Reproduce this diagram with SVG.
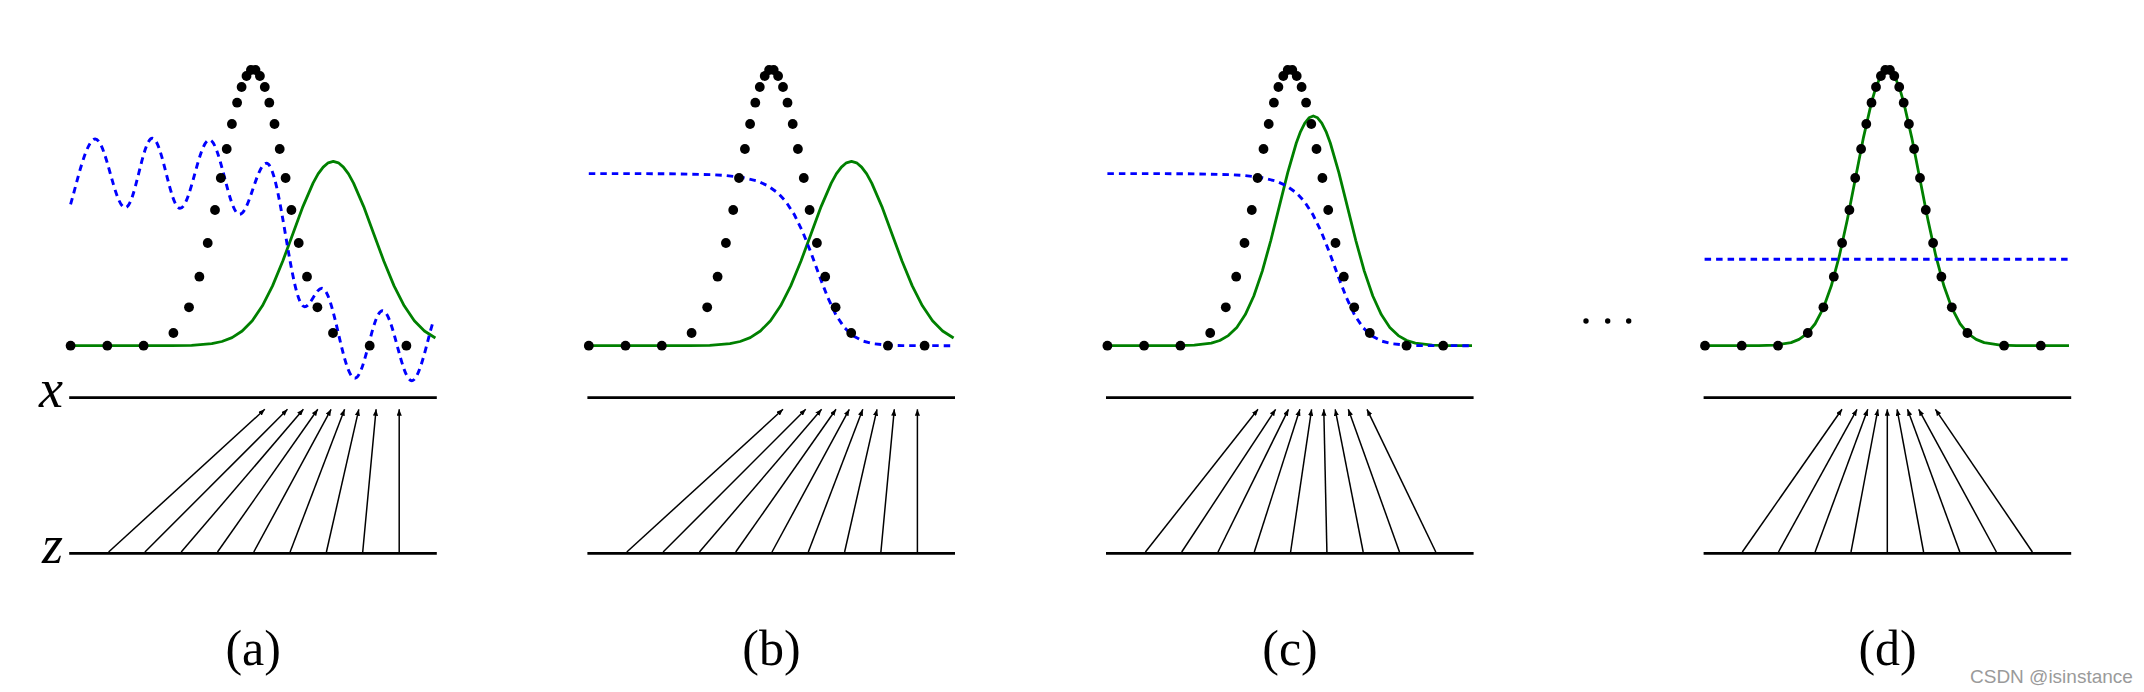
<svg xmlns="http://www.w3.org/2000/svg" xmlns:xlink="http://www.w3.org/1999/xlink" width="2144" height="692" viewBox="0 0 2144 692">
<style>
.axis{stroke:#000;stroke-width:2.8;fill:none}
.pg{stroke:#008000;stroke-width:2.8;fill:none;stroke-linejoin:round}
.dd{stroke:#0000ff;stroke-width:2.9;fill:none;stroke-dasharray:6.5 5}
.arr{stroke:#000;stroke-width:1.5;fill:none;marker-end:url(#ah)}
.dot{fill:#000}
.lab{font-family:"Liberation Serif","Times New Roman",serif;font-size:50px;text-anchor:middle;fill:#000}
.var{font-family:"Liberation Serif","Times New Roman",serif;font-style:italic;font-size:54px;text-anchor:end;fill:#000}
.wm{font-family:"Liberation Sans",Arial,sans-serif;font-size:19px;fill:#9a9a9a}
</style>
<defs>
<marker id="ah" viewBox="0 0 10 8" refX="10" refY="4" markerWidth="6.5" markerHeight="5.2" markerUnits="userSpaceOnUse" orient="auto">
<path d="M0,0L10,4L0,8z" fill="#000"/>
</marker>
<g id="axes">
<path class="axis" d="M69.2,397.7H436.8M69.2,553.3H436.8"/>
</g>
<g id="dots" class="dot">
<circle cx="70.6" cy="345.7" r="4.9"/><circle cx="107.3" cy="345.7" r="4.9"/><circle cx="143.6" cy="345.7" r="4.9"/>
<circle cx="173.4" cy="333" r="4.9"/><circle cx="189" cy="307.3" r="4.9"/><circle cx="199.4" cy="276.7" r="4.9"/>
<circle cx="207.7" cy="243" r="4.9"/><circle cx="215" cy="210" r="4.9"/><circle cx="220.8" cy="178" r="4.9"/>
<circle cx="226.7" cy="149" r="4.9"/><circle cx="231.9" cy="124" r="4.9"/><circle cx="237.1" cy="102.7" r="4.9"/>
<circle cx="241.6" cy="87" r="4.9"/><circle cx="246.5" cy="76" r="4.9"/><circle cx="250.9" cy="70" r="4.9"/>
<circle cx="255.5" cy="70" r="4.9"/><circle cx="259.9" cy="76" r="4.9"/><circle cx="264.8" cy="87" r="4.9"/>
<circle cx="269.3" cy="102.7" r="4.9"/><circle cx="274.5" cy="124" r="4.9"/><circle cx="279.7" cy="149" r="4.9"/>
<circle cx="285.6" cy="178" r="4.9"/><circle cx="291.4" cy="210" r="4.9"/><circle cx="298.7" cy="243" r="4.9"/>
<circle cx="307" cy="276.7" r="4.9"/><circle cx="317.4" cy="307.3" r="4.9"/><circle cx="333" cy="333" r="4.9"/>
<circle cx="369.7" cy="345.7" r="4.9"/><circle cx="406.4" cy="345.7" r="4.9"/>
</g>
<polyline id="pgAB" class="pg" points="70.6,345.7 171.3,345.65 191.55,345.3 211.8,343.65 221.9,341.5 232.05,337.6 242.2,331.0 252.3,320.8 262.4,305.8 272.55,285.9 282.7,261.3 292.8,233.9 302.9,206.6 313.05,183.1 318.1,173.9 323.2,167.1 328.2,162.8 333.3,161.4 338.4,162.8 343.4,167.1 348.5,173.9 353.55,183.1 363.7,206.6 373.8,233.9 383.9,261.3 394.05,285.9 404.2,305.8 414.3,320.8 424.4,331.0 435.4,338.0"/>
<polyline id="dBC" class="dd" points="70.6,173.6 150,173.7 192.1,174.6 207.7,175.5 223.3,177.3 238.9,181.0 249.2,185.5 259.6,192.9 267.9,201.9 276.2,214.8 284.5,231.9 292.9,253.0 301.2,275.9 309.5,297.4 317.8,315.0 326.1,327.5 334.4,335.5 344.8,341.1 355.2,343.7 368.7,345.1 384.2,345.6 435.4,345.7"/>
<g id="arrAB">
<line class="arr" x1="108.6" y1="552" x2="264.8" y2="409.3"/>
<line class="arr" x1="144.9" y1="552" x2="287.5" y2="409.3"/>
<line class="arr" x1="181.2" y1="552" x2="303.4" y2="409.3"/>
<line class="arr" x1="217.5" y1="552" x2="317.8" y2="409.3"/>
<line class="arr" x1="253.8" y1="552" x2="331.1" y2="409.3"/>
<line class="arr" x1="290.1" y1="552" x2="344.6" y2="409.3"/>
<line class="arr" x1="326.4" y1="552" x2="358.8" y2="409.3"/>
<line class="arr" x1="362.7" y1="552" x2="376.1" y2="409.3"/>
<line class="arr" x1="399.2" y1="552" x2="399.2" y2="409.3"/>
</g>
</defs>

<rect width="2144" height="692" fill="#fff"/>

<g id="panel-a">
<use xlink:href="#axes" href="#axes"/>
<text class="var" x="63" y="407">x</text>
<text class="var" x="63" y="563">z</text>
<use xlink:href="#pgAB" href="#pgAB"/>
<path class="dd" d="M70.6,204.3C76.6,184.3 86.2,139 95.2,139C106,139 114.5,207.7 125.3,207.7C135,207.7 142.6,138.3 152.3,138.3C162.3,138.3 170,208.3 180,208.3C190.6,208.3 198.8,140 209.4,140C220.2,140 228.7,214.3 239.5,214.3C249.2,214.3 256.8,163.3 266.5,163.3C280.2,163.3 290.9,306.7 304.6,306.7C310.8,306.7 315.7,288.3 321.9,288.3C333.7,288.3 343,378.3 354.8,378.3C364.8,378.3 372.5,310.7 382.5,310.7C393.1,310.7 401.3,380.7 411.9,380.7C419.9,380.7 428.4,335 433.4,321"/>
<use xlink:href="#dots" href="#dots"/>
<text class="lab" x="253.2" y="665">(a)</text>
</g>

<g id="panel-b" transform="translate(518.2,0)">
<use xlink:href="#axes" href="#axes"/>
<use xlink:href="#pgAB" href="#pgAB"/>
<use xlink:href="#dBC" href="#dBC"/>
<use xlink:href="#dots" href="#dots"/>
<text class="lab" x="253.2" y="665">(b)</text>
</g>

<g id="panel-c" transform="translate(1036.8,0)">
<use xlink:href="#axes" href="#axes"/>
<polyline class="pg" points="70.3,345.7 140.5,345.6 157.5,345.2 174.5,343.15 183,340.46 191.5,335.6 200,327.4 208.5,314.6 217,296.0 225.5,271.1 234,240.5 242.5,206.4 251,172.3 259.5,143.0 263.75,131.6 268,123.1 272.25,117.8 276.5,116 280.75,117.8 285,123.1 289.25,131.6 293.5,143.0 302,172.3 310.5,206.4 319,240.5 327.5,271.1 336,296.0 344.5,314.6 353,327.4 361.5,335.6 370,340.46 378.5,343.15 395.5,345.2 412.5,345.6 435.2,345.7"/>
<use xlink:href="#dBC" href="#dBC"/>
<use xlink:href="#dots" href="#dots"/>
<text class="lab" x="253.2" y="665">(c)</text>
</g>

<g id="ellipsis" class="dot">
<circle cx="1586" cy="321" r="2.7"/>
<circle cx="1607.7" cy="321" r="2.7"/>
<circle cx="1628.7" cy="321" r="2.7"/>
</g>

<g id="panel-d" transform="translate(1634.4,0)">
<use xlink:href="#axes" href="#axes"/>
<polyline class="pg" points="70.2,345.7 124.4,345.6 140.5,345.1 156.6,342.64 164.65,339.41 172.7,333.6 180.75,323.75 188.8,308.4 196.85,286.1 204.9,256.2 212.95,219.5 221,178.5 229.05,137.6 237.1,102.4 241.1,88.7 245.15,78.5 249.2,72.2 253.2,70 257.2,72.2 261.25,78.5 265.3,88.7 269.3,102.4 277.35,137.6 285.4,178.5 293.45,219.5 301.5,256.2 309.55,286.1 317.6,308.4 325.65,323.75 333.7,333.6 341.75,339.41 349.8,342.64 365.9,345.1 382,345.6 434.6,345.7"/>
<path class="dd" d="M70.2,259.3H434.6"/>
<use xlink:href="#dots" href="#dots"/>
<text class="lab" x="253.2" y="665">(d)</text>
</g>

<g id="connectors">
<g id="arrows-a"><use xlink:href="#arrAB" href="#arrAB"/></g>
<g id="arrows-b" transform="translate(518.2,0)"><use xlink:href="#arrAB" href="#arrAB"/></g>
<g id="arrows-c" transform="translate(1036.8,0)">
<line class="arr" x1="108.6" y1="552" x2="221.2" y2="409.3"/>
<line class="arr" x1="144.9" y1="552" x2="238.8" y2="409.3"/>
<line class="arr" x1="181.2" y1="552" x2="251.7" y2="409.3"/>
<line class="arr" x1="217.5" y1="552" x2="263.1" y2="409.3"/>
<line class="arr" x1="253.8" y1="552" x2="274.8" y2="409.3"/>
<line class="arr" x1="290.1" y1="552" x2="287" y2="409.3"/>
<line class="arr" x1="326.4" y1="552" x2="298.4" y2="409.3"/>
<line class="arr" x1="362.7" y1="552" x2="311.5" y2="409.3"/>
<line class="arr" x1="399" y1="552" x2="330.2" y2="409.3"/>
</g>
<g id="arrows-d" transform="translate(1634.4,0)">
<line class="arr" x1="107.9" y1="552" x2="207.6" y2="409.3"/>
<line class="arr" x1="144.1" y1="552" x2="222.6" y2="409.3"/>
<line class="arr" x1="180.7" y1="552" x2="233.4" y2="409.3"/>
<line class="arr" x1="216.6" y1="552" x2="243.5" y2="409.3"/>
<line class="arr" x1="252.9" y1="552" x2="252.9" y2="409.3"/>
<line class="arr" x1="289.2" y1="552" x2="262.7" y2="409.3"/>
<line class="arr" x1="325.4" y1="552" x2="273.1" y2="409.3"/>
<line class="arr" x1="362" y1="552" x2="284.3" y2="409.3"/>
<line class="arr" x1="398" y1="552" x2="301" y2="409.3"/>
</g>
</g>

<text class="wm" x="1970" y="683">CSDN @isinstance</text>
</svg>
